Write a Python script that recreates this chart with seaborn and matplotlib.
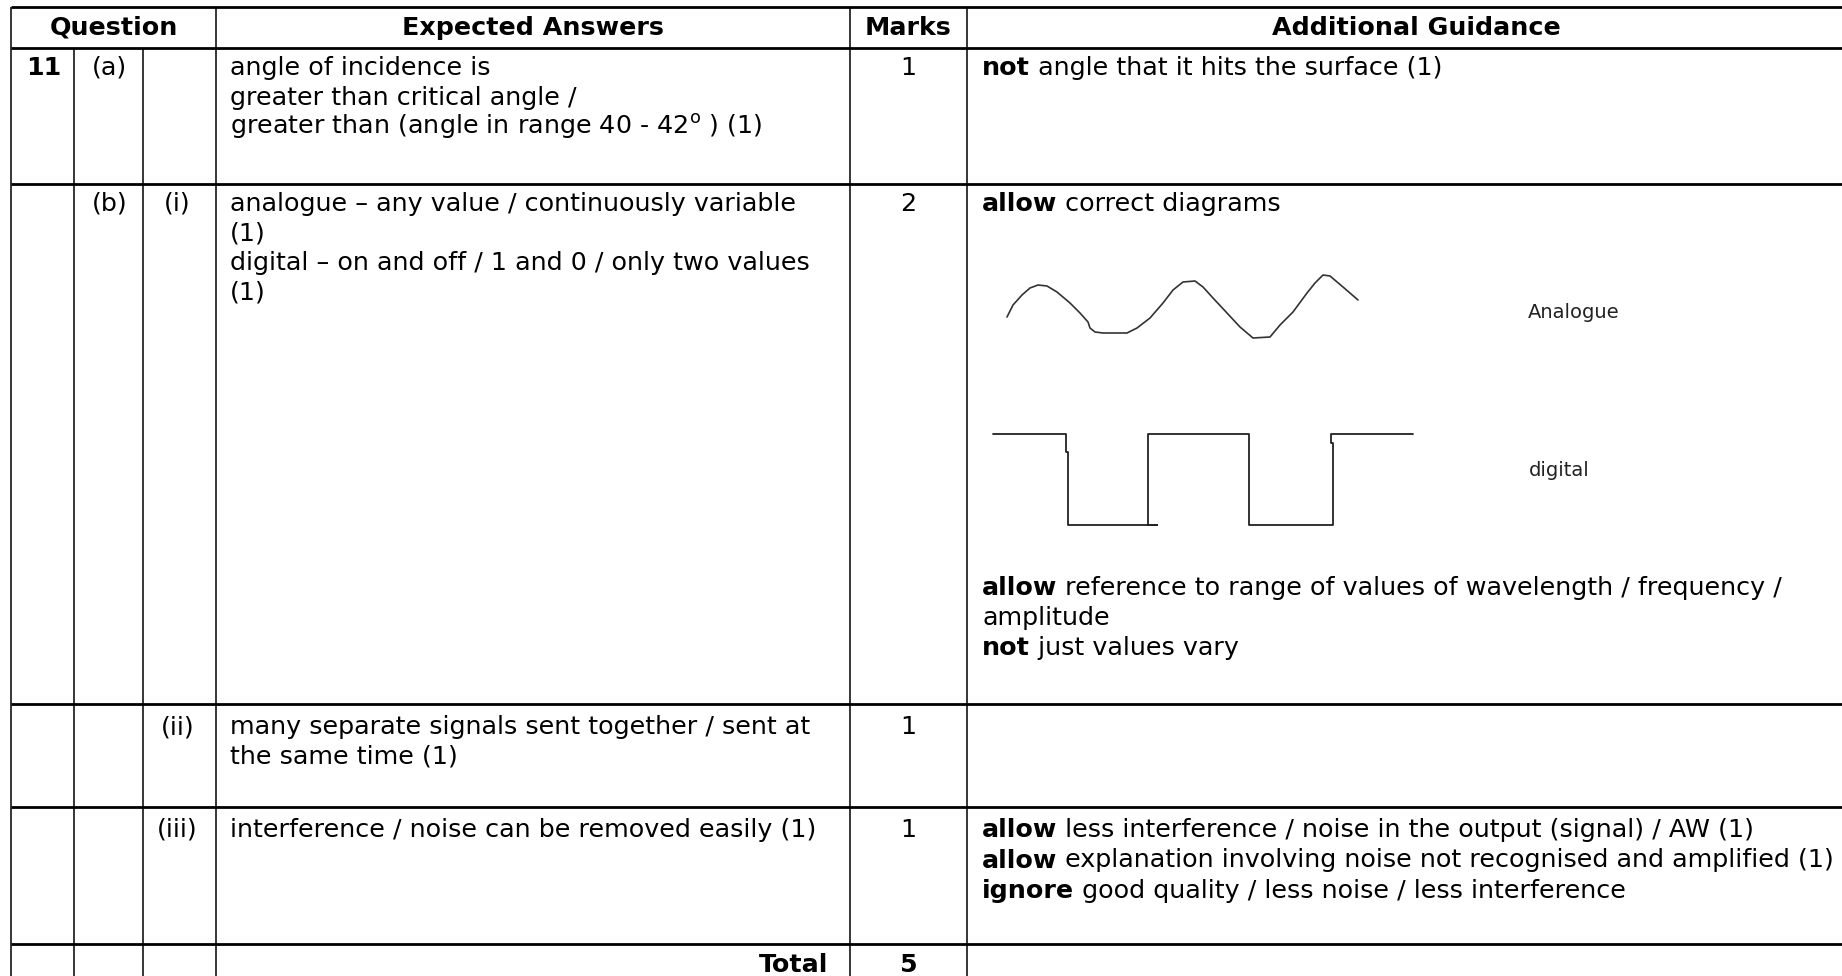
import pandas as pd
import matplotlib.pyplot as plt
import seaborn as sns

# -------------------------------
# table content
# -------------------------------
headers = ["Question", "Expected Answers", "Marks", "Additional Guidance"]
question_no = ["11", "", "", ""]
question_part = ["(a)", "(b)", "", ""]
question_sub = ["", "(i)", "(ii)", "(iii)"]
answers = [
    ["angle of incidence is",
     "greater than critical angle /",
     r"greater than (angle in range 40 - 42$^{\mathrm{o}}$ ) (1)"],
    ["analogue \u2013 any value / continuously variable", "(1)",
     "digital \u2013 on and off / 1 and 0 / only two values", "(1)"],
    ["many separate signals sent together / sent at", "the same time (1)"],
    ["interference / noise can be removed easily (1)"],
]
marks = ["1", "2", "1", "1"]
total_label = "Total"
total_marks = "5"
guidance = [
    [("not", " angle that it hits the surface (1)")],
    [("allow", " correct diagrams")],
    [],
    [("allow", " less interference / noise in the output (signal) / AW (1)"),
     ("allow", " explanation involving noise not recognised and amplified (1)"),
     ("ignore", " good quality / less noise / less interference")],
]
guidance_after_sketch = [
    ("allow", " reference to range of values of wavelength / frequency /"),
    ("", "amplitude"),
    ("not", " just values vary"),
]
sketch_labels = ["Analogue", "digital"]

# sketches in the (b)(i) guidance cell (pixels)
analogue_x = [1007, 1013, 1022, 1030, 1038, 1047, 1057, 1070, 1080, 1088,
              1090, 1095, 1103, 1127, 1137, 1150, 1163, 1173, 1183, 1195,
              1203, 1213, 1227, 1240, 1253, 1270, 1280, 1293, 1307, 1315,
              1323, 1330, 1343, 1358]
analogue_y = [317, 305, 295, 288, 285, 286, 292, 303, 313, 322,
              328, 332, 333, 333, 328, 318, 303, 290, 282, 281,
              287, 298, 313, 327, 338, 337, 325, 312, 293, 283,
              275, 276, 287, 300]
digital_x = [993, 1066, 1066, 1068, 1068, 1157, 1148, 1148, 1249, 1249,
             1333, 1333, 1331, 1331, 1413]
digital_y = [434, 434, 452, 452, 525, 525, 525, 434, 434, 525,
             525, 443, 443, 434, 434]

# -------------------------------
# layout (pixels)
# -------------------------------
W, H = 1842, 976
col_x = [11, 74, 143, 216, 850, 967]
right_edge = 1857
row_y = [7, 48, 184, 704, 807, 944]
pad_top = 20
line_gap = 29.5
fs = 18.3

sns.set_theme(style="white")
plt.rcParams['font.family'] = ['DejaVu Sans']
plt.rcParams['text.color'] = 'black'

fig = plt.figure(figsize=(W / 100, H / 100), dpi=100)
ax = fig.add_axes([0, 0, 1, 1])


def rich(x, y, bold, rest, size=fs):
    if bold:
        t = ax.text(x, y, bold, fontsize=size, fontweight='bold',
                    va='center', ha='left')
        ax.annotate(rest, xy=(1, 0), xycoords=t, va='bottom', ha='left',
                    fontsize=size)
    else:
        ax.text(x, y, rest, fontsize=size, va='center', ha='left')


# grid lines
ax.hlines(row_y, col_x[0], right_edge, color='black', lw=2.0)
for i, x in enumerate(col_x):
    top = row_y[1] if i in (1, 2) else row_y[0]
    ax.vlines(x, top, H, color='black', lw=1.1)

# header
hy = 28
ax.text((col_x[0] + col_x[3]) / 2, hy, headers[0], fontsize=fs, fontweight='bold', ha='center', va='center')
ax.text((col_x[3] + col_x[4]) / 2, hy, headers[1], fontsize=fs, fontweight='bold', ha='center', va='center')
ax.text((col_x[4] + col_x[5]) / 2, hy, headers[2], fontsize=fs, fontweight='bold', ha='center', va='center')
ax.text((col_x[5] + right_edge) / 2 + 4, hy, headers[3], fontsize=fs, fontweight='bold', ha='center', va='center')

# body rows
for r in range(4):
    y0 = row_y[r + 1] + pad_top + (3 if r >= 2 else 0)
    ax.text((col_x[0] + col_x[1]) / 2 + 1, y0, question_no[r], fontsize=fs, fontweight='bold', ha='center', va='center')
    ax.text((col_x[1] + col_x[2]) / 2 + 1, y0, question_part[r], fontsize=fs, ha='center', va='center')
    ax.text((col_x[2] + col_x[3]) / 2 - 2, y0, question_sub[r], fontsize=fs, ha='center', va='center')
    for k, line in enumerate(answers[r]):
        ax.text(col_x[3] + 14, y0 + k * line_gap, line, fontsize=fs, ha='left', va='center')
    ax.text((col_x[4] + col_x[5]) / 2, y0, marks[r], fontsize=fs, ha='center', va='center')
    for k, (b, rest) in enumerate(guidance[r]):
        rich(col_x[5] + 15, y0 + k * (line_gap + 1), b, rest)

for k, (b, rest) in enumerate(guidance_after_sketch):
    rich(col_x[5] + 15, 588 + k * (line_gap + 0.5), b, rest)

# total row
ax.text(col_x[4] - 22, 965, total_label, fontsize=fs, fontweight='bold', ha='right', va='center')
ax.text((col_x[4] + col_x[5]) / 2, 965, total_marks, fontsize=fs, fontweight='bold', ha='center', va='center')

# sketches
sns.lineplot(data=pd.DataFrame({"x": analogue_x, "y": analogue_y}), x="x", y="y",
             sort=False, estimator=None, color='#333333', lw=1.2, ax=ax)
sns.lineplot(data=pd.DataFrame({"x": digital_x, "y": digital_y}), x="x", y="y",
             sort=False, estimator=None, color='#222222', lw=1.3, ax=ax)
ax.text(1528, 312, sketch_labels[0], fontsize=14, color='#222222', ha='left', va='center')
ax.text(1529, 470, sketch_labels[1], fontsize=14, color='#222222', ha='left', va='center')

ax.set_xlim(0, W)
ax.set_ylim(H, 0)
ax.axis('off')

plt.savefig("out.png", dpi=100, facecolor='white')
